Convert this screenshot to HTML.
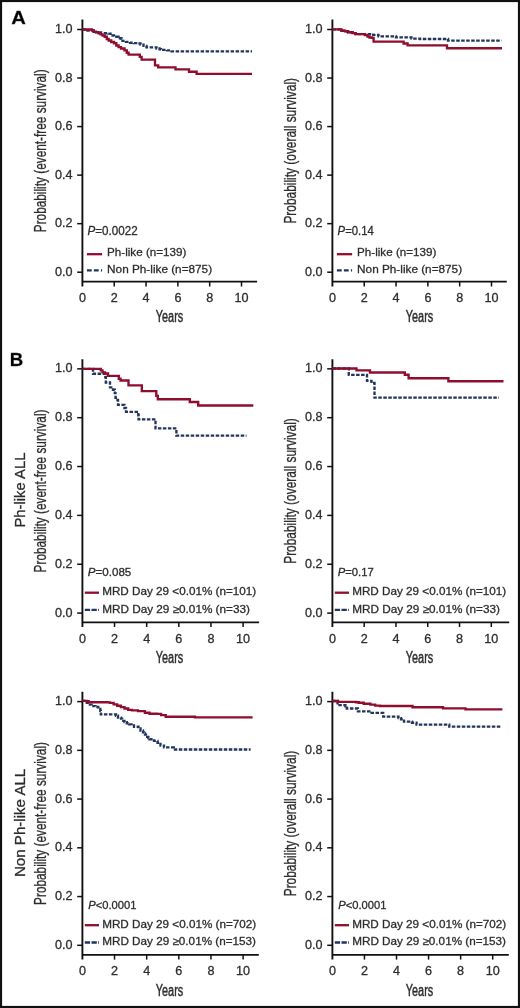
<!DOCTYPE html>
<html><head><meta charset="utf-8"><style>
html,body{margin:0;padding:0;background:#fff;}
.wrap{position:relative;width:520px;height:1008px;overflow:hidden;background:#fff;}
svg{position:absolute;left:0;top:0;will-change:transform;}
svg text{font-family:"Liberation Sans", sans-serif;stroke:#333;stroke-width:0.3px;}
</style></head><body><div class="wrap">
<svg width="520" height="1008" viewBox="0 0 520 1008">
<rect x="1" y="1" width="518" height="1006" fill="#fff" stroke="#111" stroke-width="2.2"/>
<line x1="82.4" y1="19.6" x2="82.4" y2="286.5" stroke="#111" stroke-width="1.9"/>
<line x1="77.2" y1="272.20" x2="82.4" y2="272.20" stroke="#111" stroke-width="1.5"/>
<text x="72.6" y="275.7" font-size="12.6" text-anchor="end" fill="#2a2a2a">0.0</text>
<line x1="77.2" y1="223.66" x2="82.4" y2="223.66" stroke="#111" stroke-width="1.5"/>
<text x="72.6" y="227.2" font-size="12.6" text-anchor="end" fill="#2a2a2a">0.2</text>
<line x1="77.2" y1="175.12" x2="82.4" y2="175.12" stroke="#111" stroke-width="1.5"/>
<text x="72.6" y="178.6" font-size="12.6" text-anchor="end" fill="#2a2a2a">0.4</text>
<line x1="77.2" y1="126.58" x2="82.4" y2="126.58" stroke="#111" stroke-width="1.5"/>
<text x="72.6" y="130.1" font-size="12.6" text-anchor="end" fill="#2a2a2a">0.6</text>
<line x1="77.2" y1="78.04" x2="82.4" y2="78.04" stroke="#111" stroke-width="1.5"/>
<text x="72.6" y="81.5" font-size="12.6" text-anchor="end" fill="#2a2a2a">0.8</text>
<line x1="77.2" y1="29.50" x2="82.4" y2="29.50" stroke="#111" stroke-width="1.5"/>
<text x="72.6" y="33.0" font-size="12.6" text-anchor="end" fill="#2a2a2a">1.0</text>
<line x1="82.4" y1="281.6" x2="257.1" y2="281.6" stroke="#111" stroke-width="1.9"/>
<text x="82.4" y="302.0" font-size="12.6" text-anchor="middle" fill="#2a2a2a">0</text>
<line x1="114.22" y1="281.6" x2="114.22" y2="286.5" stroke="#111" stroke-width="1.5"/>
<text x="114.2" y="302.0" font-size="12.6" text-anchor="middle" fill="#2a2a2a">2</text>
<line x1="146.04" y1="281.6" x2="146.04" y2="286.5" stroke="#111" stroke-width="1.5"/>
<text x="146.0" y="302.0" font-size="12.6" text-anchor="middle" fill="#2a2a2a">4</text>
<line x1="177.86" y1="281.6" x2="177.86" y2="286.5" stroke="#111" stroke-width="1.5"/>
<text x="177.9" y="302.0" font-size="12.6" text-anchor="middle" fill="#2a2a2a">6</text>
<line x1="209.68" y1="281.6" x2="209.68" y2="286.5" stroke="#111" stroke-width="1.5"/>
<text x="209.7" y="302.0" font-size="12.6" text-anchor="middle" fill="#2a2a2a">8</text>
<line x1="241.50" y1="281.6" x2="241.50" y2="286.5" stroke="#111" stroke-width="1.5"/>
<text x="241.5" y="302.0" font-size="12.6" text-anchor="middle" fill="#2a2a2a">10</text>
<text x="169.5" y="322.4" font-size="15.6" text-anchor="middle" fill="#2a2a2a" textLength="27.4" lengthAdjust="spacingAndGlyphs" style="stroke-width:0.45px">Years</text>
<text transform="translate(46.1,150.8) rotate(-90)" x="0" y="0" font-size="15.6" text-anchor="middle" fill="#2a2a2a" textLength="162.9" lengthAdjust="spacingAndGlyphs">Probability (event-free survival)</text>
<text x="87.6" y="235.0" font-size="12.6" fill="#2a2a2a" textLength="50.0" lengthAdjust="spacingAndGlyphs"><tspan font-style="italic">P</tspan>=0.0022</text>
<line x1="86.9" y1="254.2" x2="102.1" y2="254.2" stroke="#8f0d2f" stroke-width="2.3"/>
<line x1="86.9" y1="270.3" x2="102.1" y2="270.3" stroke="#22355e" stroke-width="2.3" stroke-dasharray="4.8 2.2"/>
<text x="107.1" y="256.4" font-size="11.4" text-anchor="start" fill="#2a2a2a" textLength="79.2" lengthAdjust="spacingAndGlyphs">Ph-like (n=139)</text>
<text x="107.1" y="273.2" font-size="11.4" text-anchor="start" fill="#2a2a2a" textLength="105.0" lengthAdjust="spacingAndGlyphs">Non Ph-like (n=875)</text>
<path d="M82.4 29.5H86.0V30.6H96.0V32.3H101.0V33.2H108.5V33.6H110.5V35.5H114.0V36.7H118.5V38.2H121.5V38.8H122.5V40.8H126.0V41.9H130.0V42.7H134.0V43.1H137.5V43.5H140.5V44.6H143.5V45.8H146.5V47.3H156.5V48.5H159.5V49.2H161.0V49.8H167.0V50.3H171.5V51.3H252.0" fill="none" stroke="#22355e" stroke-width="2.35" stroke-dasharray="3.5 1.5"/>
<path d="M82.4 29.5H91.8V30.2H93.5V31.7H96.0V32.1H98.5V33.2H100.5V34.4H102.5V35.5H104.7V36.7H106.8V39.0H108.6V40.5H111.2V42.0H114.0V43.2H116.3V45.5H118.6V47.1H121.0V48.5H124.5V50.4H126.8V52.7H128.6V54.6H139.8V56.9H141.6V59.6H155.0V65.3H158.2V67.4H175.5V69.3H189.0V71.7H196.6V73.8H252.0" fill="none" stroke="#8f0d2f" stroke-width="2.35"/>
<line x1="332.4" y1="19.6" x2="332.4" y2="286.5" stroke="#111" stroke-width="1.9"/>
<line x1="327.2" y1="272.20" x2="332.4" y2="272.20" stroke="#111" stroke-width="1.5"/>
<text x="322.6" y="275.7" font-size="12.6" text-anchor="end" fill="#2a2a2a">0.0</text>
<line x1="327.2" y1="223.66" x2="332.4" y2="223.66" stroke="#111" stroke-width="1.5"/>
<text x="322.6" y="227.2" font-size="12.6" text-anchor="end" fill="#2a2a2a">0.2</text>
<line x1="327.2" y1="175.12" x2="332.4" y2="175.12" stroke="#111" stroke-width="1.5"/>
<text x="322.6" y="178.6" font-size="12.6" text-anchor="end" fill="#2a2a2a">0.4</text>
<line x1="327.2" y1="126.58" x2="332.4" y2="126.58" stroke="#111" stroke-width="1.5"/>
<text x="322.6" y="130.1" font-size="12.6" text-anchor="end" fill="#2a2a2a">0.6</text>
<line x1="327.2" y1="78.04" x2="332.4" y2="78.04" stroke="#111" stroke-width="1.5"/>
<text x="322.6" y="81.5" font-size="12.6" text-anchor="end" fill="#2a2a2a">0.8</text>
<line x1="327.2" y1="29.50" x2="332.4" y2="29.50" stroke="#111" stroke-width="1.5"/>
<text x="322.6" y="33.0" font-size="12.6" text-anchor="end" fill="#2a2a2a">1.0</text>
<line x1="332.4" y1="281.6" x2="506.8" y2="281.6" stroke="#111" stroke-width="1.9"/>
<text x="332.4" y="302.0" font-size="12.6" text-anchor="middle" fill="#2a2a2a">0</text>
<line x1="364.22" y1="281.6" x2="364.22" y2="286.5" stroke="#111" stroke-width="1.5"/>
<text x="364.2" y="302.0" font-size="12.6" text-anchor="middle" fill="#2a2a2a">2</text>
<line x1="396.04" y1="281.6" x2="396.04" y2="286.5" stroke="#111" stroke-width="1.5"/>
<text x="396.0" y="302.0" font-size="12.6" text-anchor="middle" fill="#2a2a2a">4</text>
<line x1="427.86" y1="281.6" x2="427.86" y2="286.5" stroke="#111" stroke-width="1.5"/>
<text x="427.9" y="302.0" font-size="12.6" text-anchor="middle" fill="#2a2a2a">6</text>
<line x1="459.68" y1="281.6" x2="459.68" y2="286.5" stroke="#111" stroke-width="1.5"/>
<text x="459.7" y="302.0" font-size="12.6" text-anchor="middle" fill="#2a2a2a">8</text>
<line x1="491.50" y1="281.6" x2="491.50" y2="286.5" stroke="#111" stroke-width="1.5"/>
<text x="491.5" y="302.0" font-size="12.6" text-anchor="middle" fill="#2a2a2a">10</text>
<text x="419.5" y="322.4" font-size="15.6" text-anchor="middle" fill="#2a2a2a" textLength="27.4" lengthAdjust="spacingAndGlyphs" style="stroke-width:0.45px">Years</text>
<text transform="translate(296.1,150.8) rotate(-90)" x="0" y="0" font-size="15.6" text-anchor="middle" fill="#2a2a2a" textLength="145.6" lengthAdjust="spacingAndGlyphs">Probability (overall survival)</text>
<text x="337.6" y="235.2" font-size="12.6" fill="#2a2a2a" textLength="36.2" lengthAdjust="spacingAndGlyphs"><tspan font-style="italic">P</tspan>=0.14</text>
<line x1="336.9" y1="254.2" x2="352.1" y2="254.2" stroke="#8f0d2f" stroke-width="2.3"/>
<line x1="336.9" y1="270.3" x2="352.1" y2="270.3" stroke="#22355e" stroke-width="2.3" stroke-dasharray="4.8 2.2"/>
<text x="357.1" y="256.4" font-size="11.4" text-anchor="start" fill="#2a2a2a" textLength="79.2" lengthAdjust="spacingAndGlyphs">Ph-like (n=139)</text>
<text x="357.1" y="273.2" font-size="11.4" text-anchor="start" fill="#2a2a2a" textLength="105.0" lengthAdjust="spacingAndGlyphs">Non Ph-like (n=875)</text>
<path d="M332.4 29.4H341.5V30.7H345.0V31.2H348.0V32.2H352.5V33.1H355.5V34.1H372.0V34.8H378.5V36.3H396.0V37.4H411.5V38.6H420.0V39.0H448.0V40.6H501.5" fill="none" stroke="#22355e" stroke-width="2.35" stroke-dasharray="3.5 1.5"/>
<path d="M332.4 29.4H341.5V30.7H345.0V31.2H348.0V32.2H352.5V33.1H355.5V34.1H365.0V35.1H367.5V36.5H369.5V37.5H372.0V37.9H373.6V41.6H403.6V43.5H407.6V45.3H447.0V48.2H502.0" fill="none" stroke="#8f0d2f" stroke-width="2.35"/>
<line x1="82.4" y1="359.2" x2="82.4" y2="627.0" stroke="#111" stroke-width="1.9"/>
<line x1="77.2" y1="613.10" x2="82.4" y2="613.10" stroke="#111" stroke-width="1.5"/>
<text x="72.6" y="616.6" font-size="12.6" text-anchor="end" fill="#2a2a2a">0.0</text>
<line x1="77.2" y1="564.25" x2="82.4" y2="564.25" stroke="#111" stroke-width="1.5"/>
<text x="72.6" y="567.8" font-size="12.6" text-anchor="end" fill="#2a2a2a">0.2</text>
<line x1="77.2" y1="515.40" x2="82.4" y2="515.40" stroke="#111" stroke-width="1.5"/>
<text x="72.6" y="518.9" font-size="12.6" text-anchor="end" fill="#2a2a2a">0.4</text>
<line x1="77.2" y1="466.55" x2="82.4" y2="466.55" stroke="#111" stroke-width="1.5"/>
<text x="72.6" y="470.1" font-size="12.6" text-anchor="end" fill="#2a2a2a">0.6</text>
<line x1="77.2" y1="417.70" x2="82.4" y2="417.70" stroke="#111" stroke-width="1.5"/>
<text x="72.6" y="421.2" font-size="12.6" text-anchor="end" fill="#2a2a2a">0.8</text>
<line x1="77.2" y1="368.85" x2="82.4" y2="368.85" stroke="#111" stroke-width="1.5"/>
<text x="72.6" y="372.4" font-size="12.6" text-anchor="end" fill="#2a2a2a">1.0</text>
<line x1="82.4" y1="622.4" x2="259.1" y2="622.4" stroke="#111" stroke-width="1.9"/>
<text x="82.4" y="642.8" font-size="12.6" text-anchor="middle" fill="#2a2a2a">0</text>
<line x1="114.54" y1="622.4" x2="114.54" y2="627.0" stroke="#111" stroke-width="1.5"/>
<text x="114.5" y="642.8" font-size="12.6" text-anchor="middle" fill="#2a2a2a">2</text>
<line x1="146.68" y1="622.4" x2="146.68" y2="627.0" stroke="#111" stroke-width="1.5"/>
<text x="146.7" y="642.8" font-size="12.6" text-anchor="middle" fill="#2a2a2a">4</text>
<line x1="178.82" y1="622.4" x2="178.82" y2="627.0" stroke="#111" stroke-width="1.5"/>
<text x="178.8" y="642.8" font-size="12.6" text-anchor="middle" fill="#2a2a2a">6</text>
<line x1="210.96" y1="622.4" x2="210.96" y2="627.0" stroke="#111" stroke-width="1.5"/>
<text x="211.0" y="642.8" font-size="12.6" text-anchor="middle" fill="#2a2a2a">8</text>
<line x1="243.10" y1="622.4" x2="243.10" y2="627.0" stroke="#111" stroke-width="1.5"/>
<text x="243.1" y="642.8" font-size="12.6" text-anchor="middle" fill="#2a2a2a">10</text>
<text x="169.5" y="663.2" font-size="15.6" text-anchor="middle" fill="#2a2a2a" textLength="27.4" lengthAdjust="spacingAndGlyphs" style="stroke-width:0.45px">Years</text>
<text transform="translate(46.1,491.0) rotate(-90)" x="0" y="0" font-size="15.6" text-anchor="middle" fill="#2a2a2a" textLength="162.9" lengthAdjust="spacingAndGlyphs">Probability (event-free survival)</text>
<text x="87.7" y="575.5" font-size="11.2" fill="#2a2a2a" textLength="43.6" lengthAdjust="spacingAndGlyphs"><tspan font-style="italic">P</tspan>=0.085</text>
<line x1="84.8" y1="592.7" x2="99.0" y2="592.7" stroke="#8f0d2f" stroke-width="2.3"/>
<line x1="84.8" y1="609.8" x2="99.0" y2="609.8" stroke="#22355e" stroke-width="2.3" stroke-dasharray="5.3 1.4"/>
<text x="102.2" y="594.8" font-size="11.0" text-anchor="start" fill="#2a2a2a" textLength="154.0" lengthAdjust="spacingAndGlyphs">MRD Day 29 &lt;0.01% (n=101)</text>
<text x="102.2" y="613.1" font-size="11.0" text-anchor="start" fill="#2a2a2a" textLength="147.7" lengthAdjust="spacingAndGlyphs">MRD Day 29 &#8805;0.01% (n=33)</text>
<path d="M82.4 368.9H93.0V373.7H105.3V377.0H105.8V382.5H110.0V387.4H113.0V389.7H114.8V393.1H115.5V397.8H117.5V400.0H118.0V404.9H124.5V408.0H126.0V411.8H138.3V415.2H138.6V419.4H155.5V428.4H176.4V435.6H246.5" fill="none" stroke="#22355e" stroke-width="2.35" stroke-dasharray="3.5 1.5"/>
<path d="M82.4 368.9H100.8V370.3H102.5V372.4H105.0V373.5H108.0V375.8H118.8V378.7H120.5V380.5H128.5V385.3H141.8V391.1H156.3V395.8H157.8V399.2H189.8V402.0H198.2V405.5H253.3" fill="none" stroke="#8f0d2f" stroke-width="2.35"/>
<line x1="332.4" y1="359.2" x2="332.4" y2="627.0" stroke="#111" stroke-width="1.9"/>
<line x1="327.2" y1="613.10" x2="332.4" y2="613.10" stroke="#111" stroke-width="1.5"/>
<text x="322.6" y="616.6" font-size="12.6" text-anchor="end" fill="#2a2a2a">0.0</text>
<line x1="327.2" y1="564.25" x2="332.4" y2="564.25" stroke="#111" stroke-width="1.5"/>
<text x="322.6" y="567.8" font-size="12.6" text-anchor="end" fill="#2a2a2a">0.2</text>
<line x1="327.2" y1="515.40" x2="332.4" y2="515.40" stroke="#111" stroke-width="1.5"/>
<text x="322.6" y="518.9" font-size="12.6" text-anchor="end" fill="#2a2a2a">0.4</text>
<line x1="327.2" y1="466.55" x2="332.4" y2="466.55" stroke="#111" stroke-width="1.5"/>
<text x="322.6" y="470.1" font-size="12.6" text-anchor="end" fill="#2a2a2a">0.6</text>
<line x1="327.2" y1="417.70" x2="332.4" y2="417.70" stroke="#111" stroke-width="1.5"/>
<text x="322.6" y="421.2" font-size="12.6" text-anchor="end" fill="#2a2a2a">0.8</text>
<line x1="327.2" y1="368.85" x2="332.4" y2="368.85" stroke="#111" stroke-width="1.5"/>
<text x="322.6" y="372.4" font-size="12.6" text-anchor="end" fill="#2a2a2a">1.0</text>
<line x1="332.4" y1="622.4" x2="509.2" y2="622.4" stroke="#111" stroke-width="1.9"/>
<text x="332.4" y="642.8" font-size="12.6" text-anchor="middle" fill="#2a2a2a">0</text>
<line x1="364.18" y1="622.4" x2="364.18" y2="627.0" stroke="#111" stroke-width="1.5"/>
<text x="364.2" y="642.8" font-size="12.6" text-anchor="middle" fill="#2a2a2a">2</text>
<line x1="395.96" y1="622.4" x2="395.96" y2="627.0" stroke="#111" stroke-width="1.5"/>
<text x="396.0" y="642.8" font-size="12.6" text-anchor="middle" fill="#2a2a2a">4</text>
<line x1="427.74" y1="622.4" x2="427.74" y2="627.0" stroke="#111" stroke-width="1.5"/>
<text x="427.7" y="642.8" font-size="12.6" text-anchor="middle" fill="#2a2a2a">6</text>
<line x1="459.52" y1="622.4" x2="459.52" y2="627.0" stroke="#111" stroke-width="1.5"/>
<text x="459.5" y="642.8" font-size="12.6" text-anchor="middle" fill="#2a2a2a">8</text>
<line x1="491.30" y1="622.4" x2="491.30" y2="627.0" stroke="#111" stroke-width="1.5"/>
<text x="491.3" y="642.8" font-size="12.6" text-anchor="middle" fill="#2a2a2a">10</text>
<text x="419.5" y="663.2" font-size="15.6" text-anchor="middle" fill="#2a2a2a" textLength="27.4" lengthAdjust="spacingAndGlyphs" style="stroke-width:0.45px">Years</text>
<text transform="translate(296.1,491.0) rotate(-90)" x="0" y="0" font-size="15.6" text-anchor="middle" fill="#2a2a2a" textLength="145.6" lengthAdjust="spacingAndGlyphs">Probability (overall survival)</text>
<text x="337.7" y="575.6" font-size="11.2" fill="#2a2a2a" textLength="36.0" lengthAdjust="spacingAndGlyphs"><tspan font-style="italic">P</tspan>=0.17</text>
<line x1="334.8" y1="592.7" x2="349.0" y2="592.7" stroke="#8f0d2f" stroke-width="2.3"/>
<line x1="334.8" y1="609.8" x2="349.0" y2="609.8" stroke="#22355e" stroke-width="2.3" stroke-dasharray="5.3 1.4"/>
<text x="352.2" y="594.8" font-size="11.0" text-anchor="start" fill="#2a2a2a" textLength="154.0" lengthAdjust="spacingAndGlyphs">MRD Day 29 &lt;0.01% (n=101)</text>
<text x="352.2" y="613.1" font-size="11.0" text-anchor="start" fill="#2a2a2a" textLength="147.7" lengthAdjust="spacingAndGlyphs">MRD Day 29 &#8805;0.01% (n=33)</text>
<path d="M332.4 368.5H348.8V374.8H367.0V380.8H371.5V382.9H374.5V397.6H498.9" fill="none" stroke="#22355e" stroke-width="2.35" stroke-dasharray="3.5 1.5"/>
<path d="M332.4 368.5H356.5V370.3H370.0V372.5H404.8V374.7H408.6V378.2H448.4V381.2H503.5" fill="none" stroke="#8f0d2f" stroke-width="2.35"/>
<line x1="82.4" y1="691.7" x2="82.4" y2="959.6" stroke="#111" stroke-width="1.9"/>
<line x1="77.2" y1="945.30" x2="82.4" y2="945.30" stroke="#111" stroke-width="1.5"/>
<text x="72.6" y="948.8" font-size="12.6" text-anchor="end" fill="#2a2a2a">0.0</text>
<line x1="77.2" y1="896.56" x2="82.4" y2="896.56" stroke="#111" stroke-width="1.5"/>
<text x="72.6" y="900.1" font-size="12.6" text-anchor="end" fill="#2a2a2a">0.2</text>
<line x1="77.2" y1="847.82" x2="82.4" y2="847.82" stroke="#111" stroke-width="1.5"/>
<text x="72.6" y="851.3" font-size="12.6" text-anchor="end" fill="#2a2a2a">0.4</text>
<line x1="77.2" y1="799.08" x2="82.4" y2="799.08" stroke="#111" stroke-width="1.5"/>
<text x="72.6" y="802.6" font-size="12.6" text-anchor="end" fill="#2a2a2a">0.6</text>
<line x1="77.2" y1="750.34" x2="82.4" y2="750.34" stroke="#111" stroke-width="1.5"/>
<text x="72.6" y="753.8" font-size="12.6" text-anchor="end" fill="#2a2a2a">0.8</text>
<line x1="77.2" y1="701.60" x2="82.4" y2="701.60" stroke="#111" stroke-width="1.5"/>
<text x="72.6" y="705.1" font-size="12.6" text-anchor="end" fill="#2a2a2a">1.0</text>
<line x1="82.4" y1="954.9" x2="258.8" y2="954.9" stroke="#111" stroke-width="1.9"/>
<text x="82.4" y="975.3" font-size="12.6" text-anchor="middle" fill="#2a2a2a">0</text>
<line x1="114.54" y1="954.9" x2="114.54" y2="959.6" stroke="#111" stroke-width="1.5"/>
<text x="114.5" y="975.3" font-size="12.6" text-anchor="middle" fill="#2a2a2a">2</text>
<line x1="146.68" y1="954.9" x2="146.68" y2="959.6" stroke="#111" stroke-width="1.5"/>
<text x="146.7" y="975.3" font-size="12.6" text-anchor="middle" fill="#2a2a2a">4</text>
<line x1="178.82" y1="954.9" x2="178.82" y2="959.6" stroke="#111" stroke-width="1.5"/>
<text x="178.8" y="975.3" font-size="12.6" text-anchor="middle" fill="#2a2a2a">6</text>
<line x1="210.96" y1="954.9" x2="210.96" y2="959.6" stroke="#111" stroke-width="1.5"/>
<text x="211.0" y="975.3" font-size="12.6" text-anchor="middle" fill="#2a2a2a">8</text>
<line x1="243.10" y1="954.9" x2="243.10" y2="959.6" stroke="#111" stroke-width="1.5"/>
<text x="243.1" y="975.3" font-size="12.6" text-anchor="middle" fill="#2a2a2a">10</text>
<text x="169.5" y="995.7" font-size="15.6" text-anchor="middle" fill="#2a2a2a" textLength="27.4" lengthAdjust="spacingAndGlyphs" style="stroke-width:0.45px">Years</text>
<text transform="translate(46.1,823.5) rotate(-90)" x="0" y="0" font-size="15.6" text-anchor="middle" fill="#2a2a2a" textLength="162.9" lengthAdjust="spacingAndGlyphs">Probability (event-free survival)</text>
<text x="88.3" y="908.5" font-size="11.2" fill="#2a2a2a" textLength="48.2" lengthAdjust="spacingAndGlyphs"><tspan font-style="italic">P</tspan>&lt;0.0001</text>
<line x1="84.8" y1="925.2" x2="99.0" y2="925.2" stroke="#8f0d2f" stroke-width="2.3"/>
<line x1="84.8" y1="942.5" x2="99.0" y2="942.5" stroke="#22355e" stroke-width="2.3" stroke-dasharray="5.3 1.4"/>
<text x="102.2" y="927.8" font-size="11.0" text-anchor="start" fill="#2a2a2a" textLength="154.0" lengthAdjust="spacingAndGlyphs">MRD Day 29 &lt;0.01% (n=702)</text>
<text x="102.2" y="945.1" font-size="11.0" text-anchor="start" fill="#2a2a2a" textLength="153.8" lengthAdjust="spacingAndGlyphs">MRD Day 29 &#8805;0.01% (n=153)</text>
<path d="M82.4 700.9H86.8V702.7H88.7V704.6H91.6V706.1H95.5V707.0H98.3V708.9H100.3V710.9H100.8V714.4H116.0V715.7H118.0V717.6H121.0V718.6H122.2V719.8H123.3V720.9H124.5V722.1H126.8V723.2H129.0V724.4H131.5V725.5H134.0V726.7H138.5V728.4H140.5V730.5H143.0V732.3H144.0V733.5H145.0V734.6H146.0V735.8H147.2V736.9H148.3V738.1H149.5V739.2H154.0V740.9H157.5V742.7H160.5V745.6H164.0V747.3H173.8V749.5H250.6" fill="none" stroke="#22355e" stroke-width="2.35" stroke-dasharray="3.5 1.5"/>
<path d="M82.4 700.9H86.8V701.2H88.7V702.2H107.5V702.4H109.9V702.9H113.6V704.3H117.2V705.7H120.9V707.1H124.5V708.5H128.2V709.9H132.0V710.4H138.0V711.1H144.9V712.7H149.5V713.7H157.0V713.8H161.1V715.1H165.7V716.7H195.0V717.3H252.6" fill="none" stroke="#8f0d2f" stroke-width="2.35"/>
<line x1="332.4" y1="691.7" x2="332.4" y2="959.6" stroke="#111" stroke-width="1.9"/>
<line x1="327.2" y1="945.30" x2="332.4" y2="945.30" stroke="#111" stroke-width="1.5"/>
<text x="322.6" y="948.8" font-size="12.6" text-anchor="end" fill="#2a2a2a">0.0</text>
<line x1="327.2" y1="896.56" x2="332.4" y2="896.56" stroke="#111" stroke-width="1.5"/>
<text x="322.6" y="900.1" font-size="12.6" text-anchor="end" fill="#2a2a2a">0.2</text>
<line x1="327.2" y1="847.82" x2="332.4" y2="847.82" stroke="#111" stroke-width="1.5"/>
<text x="322.6" y="851.3" font-size="12.6" text-anchor="end" fill="#2a2a2a">0.4</text>
<line x1="327.2" y1="799.08" x2="332.4" y2="799.08" stroke="#111" stroke-width="1.5"/>
<text x="322.6" y="802.6" font-size="12.6" text-anchor="end" fill="#2a2a2a">0.6</text>
<line x1="327.2" y1="750.34" x2="332.4" y2="750.34" stroke="#111" stroke-width="1.5"/>
<text x="322.6" y="753.8" font-size="12.6" text-anchor="end" fill="#2a2a2a">0.8</text>
<line x1="327.2" y1="701.60" x2="332.4" y2="701.60" stroke="#111" stroke-width="1.5"/>
<text x="322.6" y="705.1" font-size="12.6" text-anchor="end" fill="#2a2a2a">1.0</text>
<line x1="332.4" y1="954.9" x2="508.8" y2="954.9" stroke="#111" stroke-width="1.9"/>
<text x="332.4" y="975.3" font-size="12.6" text-anchor="middle" fill="#2a2a2a">0</text>
<line x1="364.46" y1="954.9" x2="364.46" y2="959.6" stroke="#111" stroke-width="1.5"/>
<text x="364.5" y="975.3" font-size="12.6" text-anchor="middle" fill="#2a2a2a">2</text>
<line x1="396.52" y1="954.9" x2="396.52" y2="959.6" stroke="#111" stroke-width="1.5"/>
<text x="396.5" y="975.3" font-size="12.6" text-anchor="middle" fill="#2a2a2a">4</text>
<line x1="428.58" y1="954.9" x2="428.58" y2="959.6" stroke="#111" stroke-width="1.5"/>
<text x="428.6" y="975.3" font-size="12.6" text-anchor="middle" fill="#2a2a2a">6</text>
<line x1="460.64" y1="954.9" x2="460.64" y2="959.6" stroke="#111" stroke-width="1.5"/>
<text x="460.6" y="975.3" font-size="12.6" text-anchor="middle" fill="#2a2a2a">8</text>
<line x1="492.70" y1="954.9" x2="492.70" y2="959.6" stroke="#111" stroke-width="1.5"/>
<text x="492.7" y="975.3" font-size="12.6" text-anchor="middle" fill="#2a2a2a">10</text>
<text x="419.5" y="995.7" font-size="15.6" text-anchor="middle" fill="#2a2a2a" textLength="27.4" lengthAdjust="spacingAndGlyphs" style="stroke-width:0.45px">Years</text>
<text transform="translate(296.1,823.5) rotate(-90)" x="0" y="0" font-size="15.6" text-anchor="middle" fill="#2a2a2a" textLength="145.6" lengthAdjust="spacingAndGlyphs">Probability (overall survival)</text>
<text x="338.3" y="908.5" font-size="11.2" fill="#2a2a2a" textLength="48.2" lengthAdjust="spacingAndGlyphs"><tspan font-style="italic">P</tspan>&lt;0.0001</text>
<line x1="334.8" y1="925.2" x2="349.0" y2="925.2" stroke="#8f0d2f" stroke-width="2.3"/>
<line x1="334.8" y1="942.5" x2="349.0" y2="942.5" stroke="#22355e" stroke-width="2.3" stroke-dasharray="5.3 1.4"/>
<text x="352.2" y="927.8" font-size="11.0" text-anchor="start" fill="#2a2a2a" textLength="154.0" lengthAdjust="spacingAndGlyphs">MRD Day 29 &lt;0.01% (n=702)</text>
<text x="352.2" y="945.1" font-size="11.0" text-anchor="start" fill="#2a2a2a" textLength="153.8" lengthAdjust="spacingAndGlyphs">MRD Day 29 &#8805;0.01% (n=153)</text>
<path d="M332.4 701.0H337.5V705.1H345.4V706.3H346.8V708.5H357.9V711.4H370.5V712.9H383.2V716.6H398.5V718.1H401.0V719.2H404.0V721.6H412.0V722.7H416.5V724.6H449.3V726.6H501.2" fill="none" stroke="#22355e" stroke-width="2.35" stroke-dasharray="3.5 1.5"/>
<path d="M332.4 701.0H338.0V701.9H356.0V702.2H358.8V702.7H363.7V703.7H370.4V704.6H375.2V705.6H380.0V706.0H412.5V707.2H443.0V708.4H465.5V709.4H502.4" fill="none" stroke="#8f0d2f" stroke-width="2.35"/>
<text x="11.3" y="24.1" font-size="18.6" text-anchor="start" fill="#000" font-weight="bold" textLength="14.6" lengthAdjust="spacingAndGlyphs" stroke="#000">A</text>
<text x="9.8" y="365.8" font-size="18.6" text-anchor="start" fill="#000" font-weight="bold" stroke="#000">B</text>
<text transform="translate(24.7,490.1) rotate(-90)" font-size="15.4" text-anchor="middle" fill="#2a2a2a" textLength="75" lengthAdjust="spacingAndGlyphs">Ph-like ALL</text>
<text transform="translate(24.9,822.9) rotate(-90)" font-size="15.4" text-anchor="middle" fill="#2a2a2a" textLength="108.3" lengthAdjust="spacingAndGlyphs">Non Ph-like ALL</text>
</svg></div></body></html>
